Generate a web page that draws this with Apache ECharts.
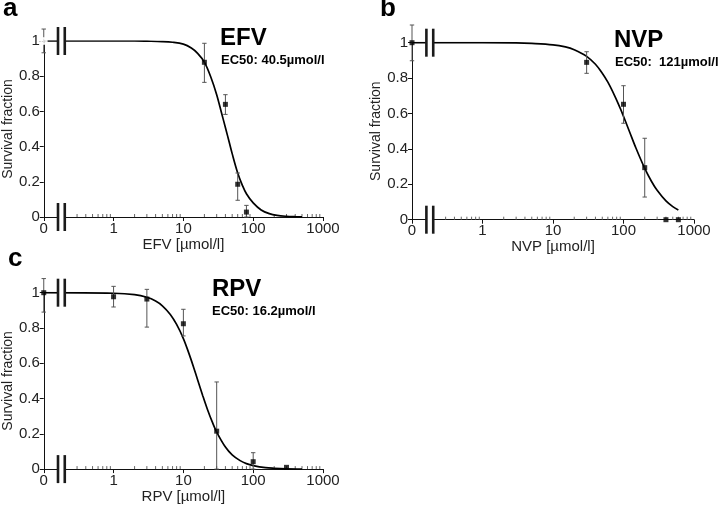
<!DOCTYPE html>
<html><head><meta charset="utf-8">
<script src="https://cdn.jsdelivr.net/npm/echarts@6/dist/echarts.min.js"></script>
<style>html,body{margin:0;padding:0;background:#fff}#c{width:725px;height:505px}</style>
</head><body><div id="c"></div>
<script>
// ---------------- data ----------------
const panelLetters = ['a', 'b', 'c'];
const drugNames = ['EFV', 'NVP', 'RPV'];
const ec50Labels = ['EC50: 40.5µmol/l', 'EC50:  121µmol/l', 'EC50: 16.2µmol/l'];
const xAxisNames = ['EFV [µmol/l]', 'NVP [µmol/l]', 'RPV [µmol/l]'];
const yAxisName = 'Survival fraction';
const xTickLabels = ['0', '1', '10', '100', '1000'];
const yTickValues = [0, 0.2, 0.4, 0.6, 0.8, 1];

// measured points (concentration µmol/l, survival fraction, error low, error high)
const efvConc = [0, 20, 40, 60, 80];
const efvSurv = [1.0, 0.879, 0.64, 0.186, 0.028];
const efvLow  = [0.933, 0.765, 0.583, 0.095, 0.0];
const efvHigh = [1.068, 0.987, 0.695, 0.25, 0.066];

const nvpConc = [0, 30, 100, 200, 400, 600];
const nvpSurv = [1.0, 0.889, 0.652, 0.294, 0.0, 0.0];
const nvpLow  = [0.898, 0.827, 0.545, 0.128, 0.0, 0.0];
const nvpHigh = [1.10, 0.949, 0.757, 0.46, 0.0, 0.0];

const rpvConc = [0, 1, 3, 10, 30, 100, 300];
const rpvSurv = [1.0, 0.977, 0.964, 0.824, 0.215, 0.042, 0.01];
const rpvLow  = [0.89, 0.919, 0.805, 0.755, 0.0, 0.0, 0.01];
const rpvHigh = [1.08, 1.036, 1.019, 0.906, 0.494, 0.093, 0.01];

// fitted dose-response curves
const efvCurveX = [0, 1, 2, 3, 5, 7, 10, 13, 16, 20, 25, 30, 35, 40.5, 45, 50, 60, 70, 80, 100, 130, 170, 220, 300, 400, 500];
const efvCurveY = [1, 1, 1, 0.999, 0.997, 0.993, 0.982, 0.96, 0.93, 0.88, 0.79, 0.695, 0.595, 0.5, 0.43, 0.36, 0.25, 0.18, 0.132, 0.08, 0.04, 0.019, 0.009, 0.004, 0.002, 0.001];

const nvpCurveX = [0, 1, 3, 5, 10, 15, 20, 30, 40, 50, 60, 75, 90, 100, 121, 150, 200, 250, 300, 400, 500, 600];
const nvpCurveY = [1, 1, 0.999, 0.996, 0.988, 0.976, 0.96, 0.923, 0.878, 0.828, 0.777, 0.70, 0.629, 0.584, 0.5, 0.405, 0.29, 0.216, 0.166, 0.106, 0.074, 0.055];

const rpvCurveX = [0, 1, 2, 3, 4, 5, 6.5, 8, 10, 12, 14, 16.2, 19, 22, 26, 30, 40, 50, 65, 80, 100, 150, 200, 300, 500];
const rpvCurveY = [1, 0.997, 0.989, 0.974, 0.953, 0.926, 0.877, 0.82, 0.74, 0.656, 0.578, 0.5, 0.415, 0.341, 0.266, 0.21, 0.125, 0.081, 0.048, 0.031, 0.02, 0.008, 0.0045, 0.0018, 0.0006];

// ---------------- layout / style ----------------
const ZERO_POS = 0.1;          // where "0" sits on the log axis
const BREAK_X = [0.16, 0.2];   // axis-break bars
const toAxis = v => (v === 0 ? ZERO_POS : v);
const FONT = '"Liberation Sans", Arial, sans-serif';

const grids = [
  {left: 40, top: 41, width: 283, height: 176},
  {left: 412, top: 42.7, width: 282, height: 177},
  {left: 40, top: 292.7, width: 283, height: 177}
];
const letterPos = [{left: 3, top: -4}, {left: 380, top: -4}, {left: 8, top: 246}];
const drugPos = [{left: 220, top: 26}, {left: 614, top: 28}, {left: 212, top: 277}];
const ecPos = [{left: 221, top: 54}, {left: 615, top: 56}, {left: 212, top: 305}];

const panels = [
  {conc: efvConc, surv: efvSurv, low: efvLow, high: efvHigh, cx: efvCurveX, cy: efvCurveY, zeroSymbol: 'emptyCircle'},
  {conc: nvpConc, surv: nvpSurv, low: nvpLow, high: nvpHigh, cx: nvpCurveX, cy: nvpCurveY, zeroSymbol: 'rect'},
  {conc: rpvConc, surv: rpvSurv, low: rpvLow, high: rpvHigh, cx: rpvCurveX, cy: rpvCurveY, zeroSymbol: 'rect'}
];

// minor tick positions of the log axis (2..9 of every decade after the break)
const minorTicks = [];
[0.1, 1, 10, 100].forEach(d => { for (let k = 2; k <= 9; k++) { const v = d * k; if (v > BREAK_X[1] * 1.2) minorTicks.push(v); } });

function renderErr(params, api) {
  const x = api.value(0), lo = api.value(1), hi = api.value(2);
  if (hi - lo < 1e-6) return null;
  const p1 = api.coord([x, lo]), p2 = api.coord([x, hi]);
  const c = 2.2;
  const st = {stroke: '#555', lineWidth: 1};
  return {type: 'group', children: [
    {type: 'line', shape: {x1: p1[0], y1: p1[1], x2: p2[0], y2: p2[1]}, style: st},
    {type: 'line', shape: {x1: p1[0] - c, y1: p1[1], x2: p1[0] + c, y2: p1[1]}, style: st},
    {type: 'line', shape: {x1: p2[0] - c, y1: p2[1], x2: p2[0] + c, y2: p2[1]}, style: st}
  ]};
}
function renderMinor(params, api) {
  const p = api.coord([api.value(0), 0]);
  return {type: 'line', shape: {x1: p[0], y1: p[1], x2: p[0], y2: p[1] - 3}, style: {stroke: '#666', lineWidth: 1}};
}
function renderBreak(params, api) {
  const y = api.value(1);
  const p1 = api.coord([BREAK_X[0], y]), p2 = api.coord([BREAK_X[1], y]);
  const h = 14, w = 2.6;
  return {type: 'group', children: [
    {type: 'rect', shape: {x: p1[0], y: p1[1] - 4, width: p2[0] - p1[0], height: 8}, style: {fill: '#fff'}},
    {type: 'rect', shape: {x: p1[0] - w / 2, y: p1[1] - h, width: w, height: 2 * h}, style: {fill: '#1a1a1a'}},
    {type: 'rect', shape: {x: p2[0] - w / 2, y: p2[1] - h, width: w, height: 2 * h}, style: {fill: '#1a1a1a'}}
  ]};
}

const option = {
  animation: false,
  backgroundColor: '#fff',
  textStyle: {fontFamily: FONT},
  title: [],
  grid: grids.map(g => Object.assign({containLabel: false}, g)),
  xAxis: [], yAxis: [], series: []
};

panels.forEach((p, i) => {
  option.title.push({text: panelLetters[i], left: letterPos[i].left, top: letterPos[i].top, padding: 0,
    textStyle: {fontSize: 26, fontWeight: 'bold', color: '#000', fontFamily: FONT}});
  option.title.push({text: drugNames[i], left: drugPos[i].left, top: drugPos[i].top, padding: 0,
    textStyle: {fontSize: 24, fontWeight: 'bold', color: '#000', fontFamily: FONT}});
  option.title.push({text: ec50Labels[i], left: ecPos[i].left, top: ecPos[i].top, padding: 0,
    textStyle: {fontSize: 13, fontWeight: 'bold', color: '#000', fontFamily: FONT}});

  option.xAxis.push({
    type: 'log', logBase: 10, gridIndex: i, min: ZERO_POS, max: 1000,
    name: xAxisNames[i], nameLocation: 'middle', nameGap: 15,
    nameTextStyle: {fontSize: 15, color: '#222', fontFamily: FONT},
    axisLine: {lineStyle: {color: '#111', width: 1}},
    axisTick: {show: true, length: 4, lineStyle: {color: '#111'}},
    axisLabel: {fontSize: 15, color: '#222', margin: 4, fontFamily: FONT,
      formatter: v => { const k = Math.round(Math.log10(v)) + 1; return xTickLabels[k] !== undefined ? xTickLabels[k] : ''; }},
    splitLine: {show: false}, minorTick: {show: false}
  });
  option.yAxis.push({
    type: 'value', gridIndex: i, min: 0, max: 1, interval: 0.2,
    name: yAxisName, nameLocation: 'middle', nameGap: 26,
    nameTextStyle: {fontSize: 14, color: '#222', fontFamily: FONT},
    axisLine: {show: true, lineStyle: {color: '#111', width: 1}},
    axisTick: {show: true, length: 4, lineStyle: {color: '#111'}},
    axisLabel: {fontSize: 15, color: '#222', margin: 4, fontFamily: FONT},
    splitLine: {show: false}
  });

  option.series.push({
    type: 'line', xAxisIndex: i, yAxisIndex: i, showSymbol: false, symbol: 'none',
    smooth: 0.35, z: 3,
    lineStyle: {color: '#000', width: 1.7},
    data: p.cx.map((x, j) => [toAxis(x), p.cy[j]])
  });
  option.series.push({
    type: 'custom', xAxisIndex: i, yAxisIndex: i, renderItem: renderErr, clip: false, z: 4,
    data: p.conc.map((x, j) => [toAxis(x), p.low[j], p.high[j]])
  });
  option.series.push({
    type: 'scatter', xAxisIndex: i, yAxisIndex: i, symbol: 'rect', symbolSize: 5, z: 5,
    itemStyle: {color: '#000'},
    data: p.conc.map((x, j) => {
      const d = {value: [toAxis(x), p.surv[j]]};
      if (x === 0 && p.zeroSymbol !== 'rect') { d.symbol = p.zeroSymbol; d.symbolSize = 6; d.itemStyle = {color: '#fff', borderColor: '#222', borderWidth: 1.6}; }
      return d;
    })
  });
  option.series.push({
    type: 'custom', xAxisIndex: i, yAxisIndex: i, renderItem: renderMinor, clip: false, z: 2,
    data: minorTicks.map(v => [v, 0])
  });
  option.series.push({
    type: 'custom', xAxisIndex: i, yAxisIndex: i, renderItem: renderBreak, clip: false, z: 10,
    data: [[BREAK_X[0], 0], [BREAK_X[0], 1]]
  });
});

const chart = echarts.init(document.getElementById('c'), null, {renderer: 'canvas'});
chart.setOption(option);
</script>
</body></html>
